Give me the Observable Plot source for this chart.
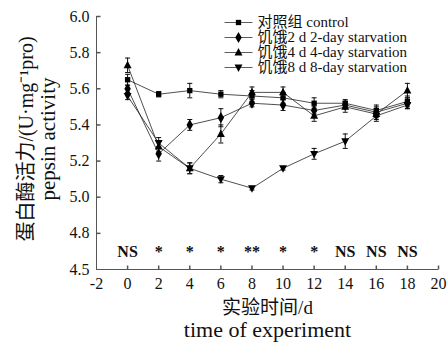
<!DOCTYPE html>
<html><head><meta charset="utf-8">
<script src="https://cdn.jsdelivr.net/npm/d3@7"></script>
<script src="https://cdn.jsdelivr.net/npm/@observablehq/plot@0.6"></script>
<style>
body{margin:0;background:#fff}
#chart svg, #chart svg text {font-family: "Liberation Serif", "Noto Sans CJK SC", serif !important;}
</style>
</head><body><div id="chart"></div>
<script>
// ---- data ----
const days = [0, 2, 4, 6, 8, 10, 12, 14, 16, 18];
const seriesNames = ["对照组 control", "饥饿2 d 2-day starvation", "饥饿4 d 4-day starvation", "饥饿8 d 8-day starvation"];
const controlMean = [5.65, 5.57, 5.59, 5.57, 5.56, 5.55, 5.52, 5.52, 5.48, 5.53];
const controlErr  = [0.03, 0.015, 0.04, 0.02, 0.03, 0.03, 0.03, 0.02, 0.03, 0.03];
const starve2Mean = [5.60, 5.24, 5.40, 5.44, 5.52, 5.51, 5.48, 5.51, 5.47, 5.52];
const starve2Err  = [0.02, 0.04, 0.03, 0.05, 0.02, 0.03, 0.02, 0.02, 0.03, 0.03];
const starve4Mean = [5.73, 5.28, 5.16, 5.35, 5.58, 5.58, 5.45, 5.50, 5.46, 5.59];
const starve4Err  = [0.04, 0.03, 0.03, 0.05, 0.03, 0.03, 0.03, 0.03, 0.03, 0.04];
const starve8Mean = [5.56, 5.30, 5.16, 5.10, 5.05, 5.16, 5.24, 5.31, 5.45, 5.51];
const starve8Err  = [0.02, 0.03, 0.03, 0.02, 0.01, 0.01, 0.03, 0.04, 0.03, 0.02];
const sigLabels = ["NS", "*", "*", "*", "**", "*", "*", "NS", "NS", "NS"];
const sigLevel = 4.7;
const xTicks = [-2, 0, 2, 4, 6, 8, 10, 12, 14, 16, 18, 20];
const yTicks = [4.6, 4.8, 5.0, 5.2, 5.4, 5.6, 5.8, 6.0];
const yTickLabels = ["4.5", "4.8", "5.0", "5.2", "5.4", "5.6", "5.8", "6.0"];
const xTitle = ["实验时间/d", "time of experiment"];
const yTitle = ["蛋白酶活力/(U·mg⁻¹pro)", "pepsin activity"];

// ---- symbols ----
const triUp = {draw(ctx, size) { const s = Math.sqrt(size) * 0.62; ctx.moveTo(0, -s * 1.15); ctx.lineTo(s, s * 0.75); ctx.lineTo(-s, s * 0.75); ctx.closePath(); }};
const triDown = {draw(ctx, size) { const s = Math.sqrt(size) * 0.62; ctx.moveTo(0, s * 1.15); ctx.lineTo(s, -s * 0.75); ctx.lineTo(-s, -s * 0.75); ctx.closePath(); }};
const cap = {draw(ctx) { ctx.moveTo(-2.5, 0); ctx.lineTo(2.5, 0); }};
const vTick = {draw(ctx) { ctx.moveTo(0, 0); ctx.lineTo(0, -4); }};
const hTick = {draw(ctx) { ctx.moveTo(0, 0); ctx.lineTo(4, 0); }};
const legLine = {draw(ctx) { ctx.moveTo(-14, 0); ctx.lineTo(14, 0); }};
const symbols = [d3.symbolSquare, d3.symbolDiamond, triUp, triDown];
const sizes = [3, 3.4, 3.6, 3.6];

const means = [controlMean, starve2Mean, starve4Mean, starve8Mean];
const errs = [controlErr, starve2Err, starve4Err, starve8Err];
const series = means.map((m, s) => days.map((d, i) => ({day: d, v: m[i], e: errs[s][i], s})));
const all = series.flat();
const sig = days.map((d, i) => ({day: d, label: sigLabels[i]}));

const font = "Liberation Serif, Noto Sans CJK SC, serif";
const ink = "#111";

const marks = [
  Plot.ruleX([-2], {stroke: "#555", strokeWidth: 1}),
  Plot.ruleY([4.6], {stroke: "#555", strokeWidth: 1}),
  Plot.dot(xTicks.slice(1), {x: d => d, frameAnchor: "bottom", symbol: vTick, stroke: "#555", fill: "none"}),
  Plot.dot(yTicks.slice(1), {y: d => d, frameAnchor: "left", symbol: hTick, stroke: "#555", fill: "none"}),
  Plot.axisX({ticks: xTicks, tickSize: 0, tickPadding: 8, label: null, tickFormat: d => String(d), fill: ink, fontSize: 16}),
  Plot.axisY({ticks: yTicks, tickSize: 0, tickPadding: 7, label: null, tickFormat: d => yTickLabels[yTicks.indexOf(d)], fill: ink, fontSize: 16}),
  ...series.map(sr => Plot.line(sr, {x: "day", y: "v", stroke: "#222", strokeWidth: 0.8})),
  Plot.ruleX(all, {x: "day", y1: d => d.v - d.e, y2: d => d.v + d.e, stroke: "#111", strokeWidth: 1}),
  Plot.dot(all, {x: "day", y: d => d.v + d.e, symbol: cap, stroke: "#111", fill: "none", strokeWidth: 1}),
  Plot.dot(all, {x: "day", y: d => d.v - d.e, symbol: cap, stroke: "#111", fill: "none", strokeWidth: 1}),
  ...series.map((sr, s) => Plot.dot(sr, {x: "day", y: "v", symbol: symbols[s], r: sizes[s], fill: "#000", stroke: "none"})),
  Plot.text(sig, {x: "day", y: () => sigLevel, text: "label", fontSize: 16, fontWeight: "bold", fill: ink}),
  // legend
  ...seriesNames.flatMap((name, s) => [
    Plot.dot([name], {frameAnchor: "top-left", dx: 142, dy: 6 + s * 15, symbol: legLine, stroke: "#333", fill: "none", strokeWidth: 0.8}),
    Plot.dot([name], {frameAnchor: "top-left", dx: 142, dy: 6 + s * 15, symbol: symbols[s], r: sizes[s], fill: "#000", stroke: "none"}),
    Plot.text([name], {frameAnchor: "top-left", dx: 161, dy: 6 + s * 15, text: d => d, textAnchor: "start", lineAnchor: "middle", fontSize: 15, fill: ink})
  ]),
  // axis titles
  Plot.text([xTitle[0]], {frameAnchor: "bottom", dy: 38, text: d => d, textAnchor: "middle", lineAnchor: "middle", fontSize: 19, fill: ink}),
  Plot.text([xTitle[1]], {frameAnchor: "bottom", dy: 60, text: d => d, textAnchor: "middle", lineAnchor: "middle", fontSize: 22, fill: ink}),
  Plot.text([yTitle[0]], {frameAnchor: "left", dx: -70, dy: -4, rotate: -90, text: d => d, textAnchor: "middle", lineAnchor: "middle", fontSize: 20, fill: ink}),
  Plot.text([yTitle[1]], {frameAnchor: "left", dx: -48, dy: -4, rotate: -90, text: d => d, textAnchor: "middle", lineAnchor: "middle", fontSize: 21, fill: ink})
];

const chart = Plot.plot({
  width: 448, height: 344,
  marginLeft: 96, marginRight: 10, marginTop: 16, marginBottom: 75,
  x: {domain: [-2, 20]},
  y: {domain: [4.6, 6.0]},
  style: {fontFamily: font, background: "#fff", color: ink, overflow: "visible"},
  marks
});
document.getElementById("chart").appendChild(chart);
</script>
</body></html>
